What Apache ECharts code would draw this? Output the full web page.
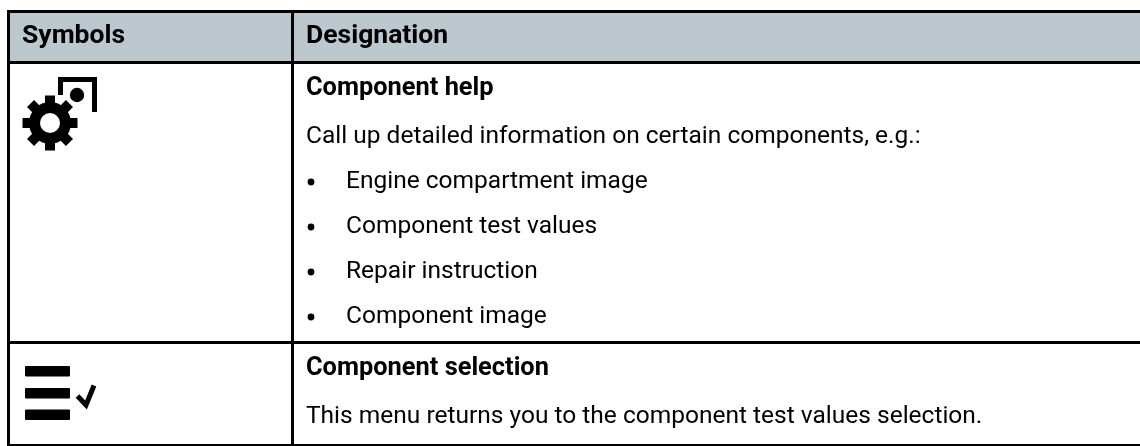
<!DOCTYPE html>
<html><head><meta charset="utf-8">
<style>html,body{margin:0;padding:0;background:#fff}#c{width:1140px;height:446px}</style>
<script src="https://cdn.jsdelivr.net/npm/echarts@6/dist/echarts.min.js"></script>
</head><body><div id="c"></div>
<script>
var headers = ['Symbols','Designation'];
var titles = ['Component help','Component selection'];
var intro = 'Call up detailed information on certain components, e.g.:';
var bullets = ['Engine compartment image','Component test values','Repair instruction','Component image'];
var note = 'This menu returns you to the component test values selection.';
var font = 'Roboto, sans-serif';
var chart = echarts.init(document.getElementById('c'),null,{renderer:'canvas'});
function rect(x,y,w,h,c){return {type:'rect',shape:{x:x,y:y,width:w,height:h},style:{fill:c||'#000'}};}
function txt(x,y,s,w,size){return {type:'text',x:x,y:y+1.5,style:{text:s,font:w+' '+size+'px '+font,fill:'#000',textVerticalAlign:'middle'}};}
var g=[];
g.push(rect(7,13,1133,48,'#bdc8ce'));
g.push(rect(7,10,1133,3),rect(7,61,1133,3),rect(7,341,1133,3),rect(7,444,1133,2),rect(7,10,3,436),rect(291,10,3,436));
g.push(txt(22,35,headers[0],'bold',26.5),txt(306,35,headers[1],'bold',26.5));
g.push(txt(306,87,titles[0],'bold',25.4),txt(306,135,intro,'normal',24.5));
var ys=[180,225,270,315];
bullets.forEach(function(b,i){g.push({type:'circle',shape:{cx:311,cy:ys[i]+2,r:3.4},style:{fill:'#000'}});g.push(txt(346,ys[i],b,'normal',24.5));});
g.push(txt(306,367,titles[1],'bold',25.4),txt(306,415,note,'normal',24.5));
// component help icon
g.push({type:'polyline',shape:{points:[[60.5,95],[60.5,79.5],[94.5,79.5],[94.5,112]]},style:{stroke:'#000',fill:null,lineWidth:5}});
g.push({type:'circle',shape:{cx:77,cy:95,r:7.2},style:{fill:'#000'}});
g.push({type:'circle',shape:{cx:50,cy:123,r:15.5},style:{stroke:'#000',fill:'#fff',lineWidth:11}});
for(var i=0;i<8;i++){g.push({type:'rect',x:50,y:123,originX:0,originY:0,rotation:i*Math.PI/4,shape:{x:-5,y:-27.5,width:10,height:9},style:{fill:'#000'}});}
// selection icon
[366,388,409.5].forEach(function(y){g.push({type:'rect',shape:{x:25,y:y,width:45,height:10.5,r:1},style:{fill:'#000'}});});
g.push({type:'polyline',shape:{points:[[77.5,396],[86,405],[94,385.5]]},style:{stroke:'#000',fill:null,lineWidth:5}});
chart.setOption({animation:false,graphic:{elements:g}});
</script></body></html>
